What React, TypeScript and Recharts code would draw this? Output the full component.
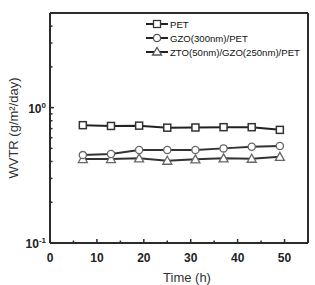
import { LineChart, Line, XAxis, YAxis, ReferenceLine, Legend } from "recharts";

const times = [7, 13, 19, 25, 31, 37, 43, 49];
const petValues = [0.742, 0.732, 0.736, 0.711, 0.713, 0.717, 0.717, 0.685];
const gzoValues = [0.446, 0.454, 0.486, 0.486, 0.486, 0.5, 0.514, 0.52];
const ztoValues = [0.417, 0.417, 0.422, 0.405, 0.415, 0.422, 0.419, 0.433];

const xTicks = [0, 5, 10, 15, 20, 25, 30, 35, 40, 45, 50];
const yTicks = [0.1, 0.2, 0.3, 0.4, 0.5, 0.6, 0.7, 0.8, 0.9, 1, 2, 3, 4];

const seriesNames = ["PET", "GZO(300nm)/PET", "ZTO(50nm)/GZO(250nm)/PET"];

const data = times.map((t, i) => ({
  t,
  pet: petValues[i],
  gzo: gzoValues[i],
  zto: ztoValues[i],
}));

const AXIS = "#2b2b2b";
const FONT = "Arial, 'Liberation Sans', sans-serif";
const X_MARGIN = 14;
const Y_MARGIN = 6;

function XTick(props: any) {
  const { x, y, payload } = props;
  const v = payload.value as number;
  const axisY = y - X_MARGIN;
  const major = v % 10 === 0;
  return (
    <g>
      {v > 0 && (
        <line x1={x} x2={x} y1={axisY} y2={axisY - (major ? 4 : 2.5)} stroke={AXIS} strokeWidth={1.5} />
      )}
      {major && (
        <text x={x} y={axisY + 19} textAnchor="middle" fontSize={12} fontWeight="bold" fill="#222" fontFamily={FONT}>
          {v}
        </text>
      )}
    </g>
  );
}

function YTick(props: any) {
  const { x, y, payload } = props;
  const v = payload.value as number;
  const axisX = x + Y_MARGIN;
  const major = v === 0.1 || v === 1;
  return (
    <g>
      {v !== 0.1 && (
        <line x1={axisX} x2={axisX + (major ? 4 : 2.5)} y1={y} y2={y} stroke={AXIS} strokeWidth={1.5} />
      )}
      {major && (
        <text x={axisX - 4} y={y + 5} textAnchor="end" fontSize={12} fontWeight="bold" fill="#222" fontFamily={FONT}>
          10
          <tspan dy={-5} fontSize={8}>
            {v === 1 ? "0" : "-1"}
          </tspan>
        </text>
      )}
    </g>
  );
}

function SquareDot(props: any) {
  const { cx, cy } = props;
  if (cx == null || cy == null) return null;
  return <rect x={cx - 3.5} y={cy - 3.5} width={7} height={7} fill="#fff" stroke="#333" strokeWidth={1.5} />;
}

function TriangleDot(props: any) {
  const { cx, cy } = props;
  if (cx == null || cy == null) return null;
  return (
    <path
      d={`M${cx},${cy - 4.5} L${cx + 4.5},${cy + 3.5} L${cx - 4.5},${cy + 3.5} Z`}
      fill="#fff"
      stroke="#666"
      strokeWidth={1.3}
    />
  );
}

function LegendBox() {
  const rows = [0, 14, 28];
  return (
    <svg width={170} height={44}>
      {seriesNames.map((name, i) => {
        const cy = rows[i] + 8;
        return (
          <g key={name}>
            <line x1={2} x2={24} y1={cy} y2={cy} stroke="#222" strokeWidth={2} />
            {i === 0 && <rect x={9.5} y={cy - 3.5} width={7} height={7} fill="#fff" stroke="#333" strokeWidth={1.3} />}
            {i === 1 && <circle cx={13} cy={cy} r={3.6} fill="#fff" stroke="#555" strokeWidth={1.3} />}
            {i === 2 && (
              <path d={`M13,${cy - 4.5} L17.5,${cy + 3} L8.5,${cy + 3} Z`} fill="#fff" stroke="#555" strokeWidth={1.3} />
            )}
            <text x={26} y={cy + 3.5} fontSize={9.6} fill="#111" fontFamily={FONT}>
              {name}
            </text>
          </g>
        );
      })}
    </svg>
  );
}

export default function App() {
  return (
    <div style={{ position: "absolute", left: 0, top: 0, width: 315, height: 285, background: "#fff" }}>
      <LineChart width={315} height={285} data={data} margin={{ top: 13, right: 7, left: 0, bottom: 0 }}>
        <XAxis
          dataKey="t"
          type="number"
          domain={[0, 55]}
          ticks={xTicks}
          interval={0}
          tickSize={0}
          tickMargin={X_MARGIN}
          tickLine={false}
          axisLine={{ stroke: AXIS, strokeWidth: 2 }}
          tick={<XTick />}
          height={42}
          label={() => (
            <text x={187} y={282} textAnchor="middle" fontSize={13} fontWeight="normal" fill="#333" fontFamily={FONT}>
              Time (h)
            </text>
          )}
        />
        <YAxis
          type="number"
          scale="log"
          domain={[0.1, 5]}
          allowDataOverflow
          ticks={yTicks}
          interval={0}
          tickSize={0}
          tickMargin={Y_MARGIN}
          tickLine={false}
          axisLine={{ stroke: AXIS, strokeWidth: 2 }}
          tick={<YTick />}
          width={50}
          label={() => (
            <text
              x={18}
              y={128}
              transform="rotate(-90 18 128)"
              textAnchor="middle"
              fontSize={13}
              fontWeight="normal"
              fill="#333"
              fontFamily={FONT}
            >
              WVTR (g/m²/day)
            </text>
          )}
        />
        <ReferenceLine y={5} stroke={AXIS} strokeWidth={2} />
        <ReferenceLine x={55} stroke={AXIS} strokeWidth={2} />
        <Legend
          layout="vertical"
          align="center"
          verticalAlign="middle"
          wrapperStyle={{ left: 144, top: 16, width: 170 }}
          content={() => <LegendBox />}
        />
        <Line dataKey="zto" stroke="#333" strokeWidth={2} dot={<TriangleDot />} isAnimationActive={false} />
        <Line
          dataKey="gzo"
          stroke="#333"
          strokeWidth={2}
          dot={{ r: 3.6, fill: "#fff", stroke: "#666", strokeWidth: 1.3 }}
          isAnimationActive={false}
        />
        <Line dataKey="pet" stroke="#222" strokeWidth={2} dot={<SquareDot />} isAnimationActive={false} />
      </LineChart>
    </div>
  );
}
